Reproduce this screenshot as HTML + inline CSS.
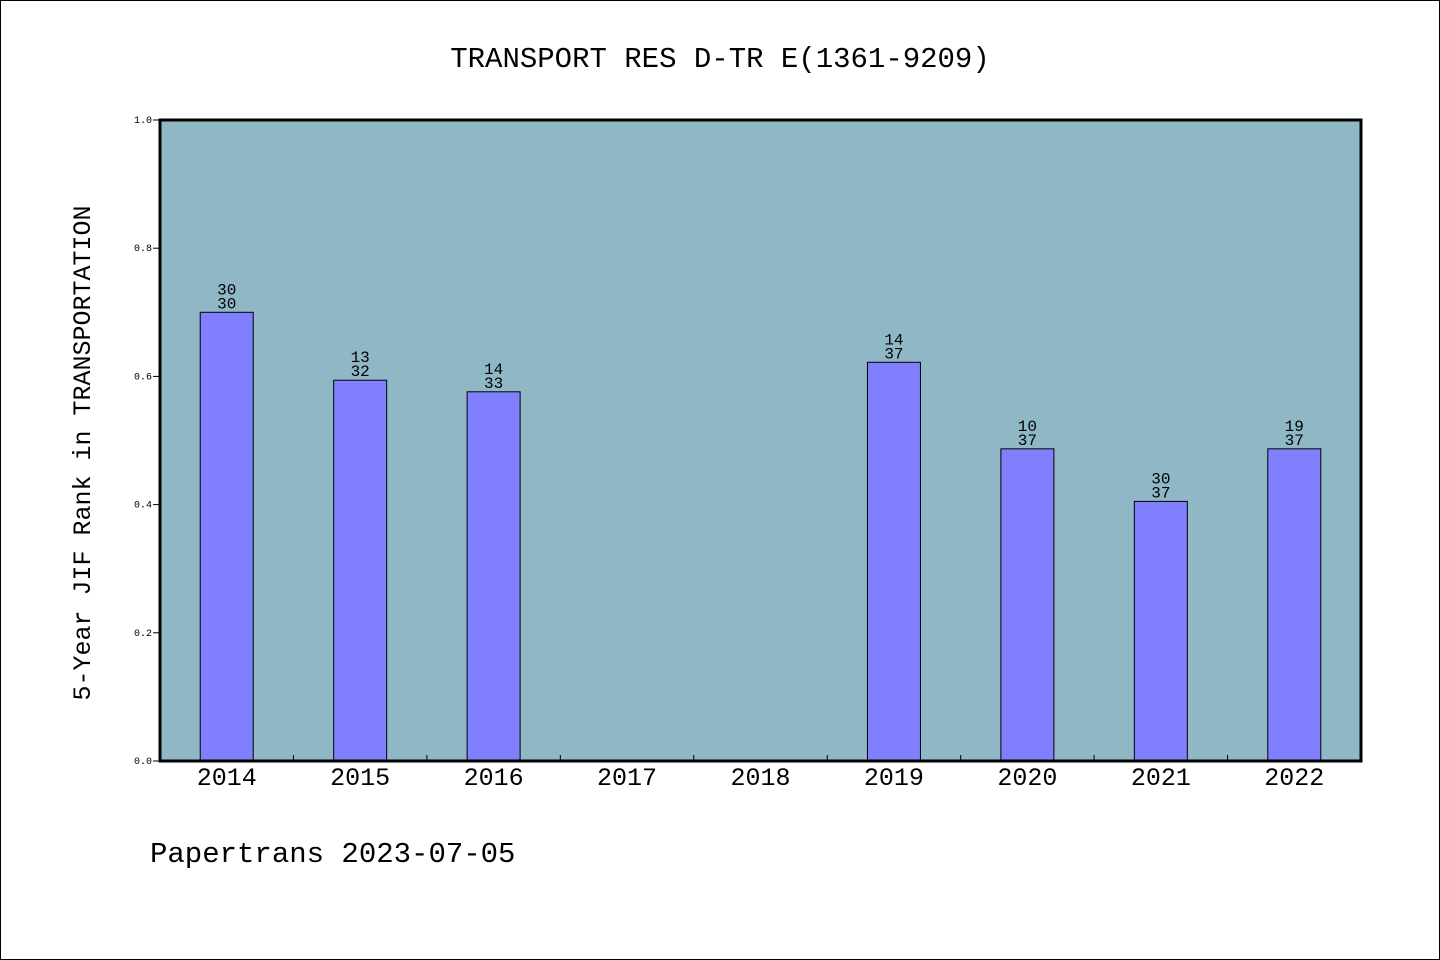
<!DOCTYPE html>
<html><head><meta charset="utf-8"><style>
body{margin:0;background:#fff}
svg{display:block}
text{font-family:"WenQuanYi Zen Hei","Liberation Mono",monospace;fill:#000}
</style></head><body>
<svg id="chart" width="1440" height="960">
<rect x="0.5" y="0.5" width="1439" height="959" fill="#fff" stroke="#000"/>
<text x="720" y="67" font-size="29" text-anchor="middle">TRANSPORT RES D-TR E(1361-9209)</text>
<rect x="160" y="120" width="1201" height="641" fill="#8fb7c6"/>
<g id="marks"></g>
<rect x="160" y="120" width="1201" height="641" fill="none" stroke="#000" stroke-width="3"/>
<text transform="translate(90,453) rotate(-90)" font-size="25" text-anchor="middle">5-Year JIF Rank in TRANSPORTATION</text>
<text x="150" y="862" font-size="29">Papertrans 2023-07-05</text>
</svg>
<script>
const categories=["2014","2015","2016","2017","2018","2019","2020","2021","2022"];
const values=[0.70,0.594,0.576,null,null,0.622,0.487,0.405,0.487];
const rankLabels=["30","13","14","","","14","10","30","19"];
const totalLabels=["30","32","33","","","37","37","37","37"];
const yTicks=[0,0.2,0.4,0.6,0.8,1.0];
const X0=160,X1=1361,Y0=761,Y1=120;
const bw=(X1-X0)/categories.length;
const xc=i=>X0+bw*(i+0.5);
const y=v=>Y0-(Y0-Y1)*v;
const g=document.getElementById('marks');
const NS="http://www.w3.org/2000/svg";
function mk(t,a){const e=document.createElementNS(NS,t);for(const k in a)e.setAttribute(k,a[k]);g.appendChild(e);return e;}
yTicks.forEach(v=>{
 const l=mk('line',{x1:153,x2:160,y1:y(v),y2:y(v),stroke:'#000'});
 
 
 const t=mk('text',{x:152,y:y(v)+3,'font-size':10,'text-anchor':'end'});
 t.textContent=v.toFixed(1);
 
 
});
categories.forEach((c,i)=>{
 if(i>0){const l=mk('line',{x1:X0+bw*i,x2:X0+bw*i,y1:Y0,y2:Y0-6,stroke:'#000'});
 
 }
 const t=mk('text',{x:xc(i),y:785,'font-size':25,'text-anchor':'middle'});
 t.textContent=c;
 
 
 const v=values[i];
 if(v!=null){
  const b=mk('rect',{x:xc(i)-26.5,y:y(v),width:53,height:Y0-y(v),fill:'#8080ff',stroke:'#000','stroke-width':1});
  
  
  const t1=mk('text',{x:xc(i),y:y(v)-18,'font-size':16,'text-anchor':'middle'});
  t1.textContent=rankLabels[i];
  
  
  const t2=mk('text',{x:xc(i),y:y(v)-4,'font-size':16,'text-anchor':'middle'});
  t2.textContent=totalLabels[i];
  
  
 }
});
</script>
</body></html>
